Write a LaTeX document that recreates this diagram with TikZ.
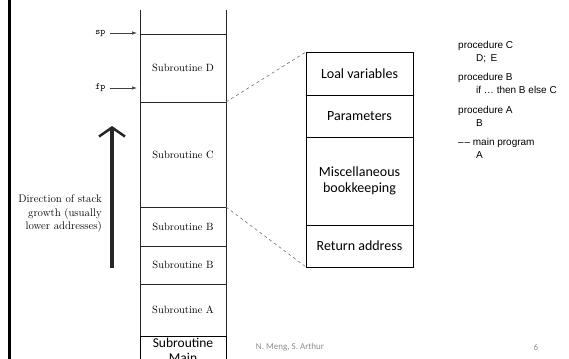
\documentclass[tikz,border=0pt]{standalone}
\usepackage{fontspec}
\newfontfamily\calibri{Carlito}
\newfontfamily\helv{Liberation Sans}
\usepackage{tikz}
\usetikzlibrary{arrows.meta,positioning}

\begin{document}
\begin{tikzpicture}[x=1pt, y=-1pt,
  node distance=0pt,
  frame/.style={draw=black!85, line width=0.7pt, minimum width=86pt, inner sep=0pt, outer sep=0pt, font=\fontsize{10.5}{12}\selectfont},
  field/.style={draw, line width=0.8pt, minimum width=107pt, inner sep=0pt, outer sep=0pt, align=center, font=\calibri\fontsize{14}{15.5}\selectfont},
  ptr/.style={-{Latex[length=5pt,width=3.5pt]}, draw=black!75, line width=0.7pt, shorten >=3pt, shorten <=1pt},
  zoomline/.style={dashed, draw=black!55, line width=0.6pt},
  code/.style={font=\helv\fontsize{10}{13}\selectfont, anchor=north west, align=left, inner sep=0pt},
  footer/.style={font=\calibri\fontsize{9}{10}\selectfont, text=black!45}
]
\clip (0,0) rectangle (569,358);

% slide edge
\draw[line width=3pt] (9,-2) -- (9,360);

% the run-time stack
\node[frame, minimum height=68pt, anchor=north west] (subD) at (140,34) {Subroutine D};
\node[frame, minimum height=105pt, below=of subD] (subC) {Subroutine C};
\node[frame, minimum height=39pt, below=of subC] (subB2) {Subroutine B};
\node[frame, minimum height=38pt, below=of subB2] (subB1) {Subroutine B};
\node[frame, minimum height=52pt, below=of subB1] (subA) {Subroutine A};
\node[frame, draw=black, line width=1pt, below=of subA, align=center, inner ysep=2pt, font=\calibri\fontsize{13.5}{15}\selectfont] (subMain) {Subroutine\\Main};
\draw[black!85, line width=0.7pt] (subD.north west) -- ++(0,-24);
\draw[black!85, line width=0.7pt] (subD.north east) -- ++(0,-24);

% stack and frame pointers
\node[font=\ttfamily\fontsize{9.5}{10}\selectfont, anchor=east] (sp) at (109,33) {sp};
\node[font=\ttfamily\fontsize{9.5}{10}\selectfont, anchor=east] (fp) at (109,88) {fp};
\draw[ptr] (sp) -- (sp -| subD.west);
\draw[ptr] (fp) -- (fp -| subD.west);

% growth direction
\coordinate (growTail) at (112,268);
\coordinate (growHead) at (112,126);
\draw[black!85, line width=3.5pt, -{Straight Barb[length=9pt, width=26pt, line width=2.5pt]}] (growTail) -- (growHead);
\node[anchor=east, align=right, inner sep=0pt, font=\fontsize{11}{13.5}\selectfont] (growText) at (102,214) {Direction of stack\\growth (usually\\lower addresses)};

% layout of one frame
\node[field, minimum height=43pt, anchor=north west] (locals) at (306,52) {Loal variables};
\node[field, minimum height=42pt, below=of locals] (params) {Parameters};
\node[field, minimum height=88pt, below=of params] (misc) {Miscellaneous\\bookkeeping};
\node[field, minimum height=42pt, below=of misc] (retaddr) {Return address};

\draw[zoomline] (subD.south east) -- (locals.north west);
\draw[zoomline] (subB2.north east) -- (retaddr.south west);

% program text
\node[code] (prog) at (458,41) {procedure C\\
  \hspace*{18pt}D;\, E\\[6.5pt]
  procedure B\\
  \hspace*{18pt}if \dots\ then B else C\\[6.5pt]
  procedure A\\
  \hspace*{18pt}B\\[6.5pt]
  \textendash\kern0.8pt\textendash\ main program\\
  \hspace*{18pt}A};

% footer
\node[footer] (author) at (290,347) {N. Meng, S. Arthur};
\node[footer] (pagenum) at (536,347) {6};
\end{tikzpicture}
\end{document}
